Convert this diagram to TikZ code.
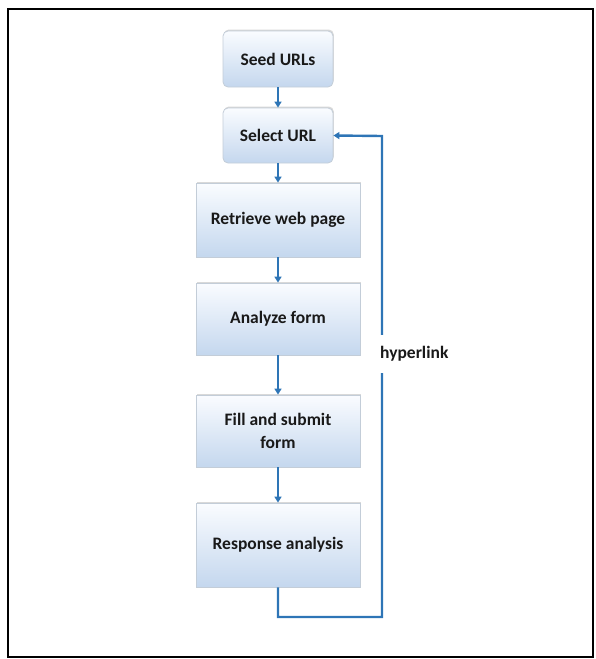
\documentclass[tikz,border=0pt]{standalone}
\usepackage{fontspec}
\setmainfont{Carlito}
\usetikzlibrary{arrows.meta,shadows}
\definecolor{flowblue}{RGB}{46,117,182}
\definecolor{boxtop}{RGB}{250,252,255}
\definecolor{boxbot}{RGB}{196,215,238}
\definecolor{boxedge}{RGB}{195,205,216}
\tikzset{
  stepbox/.style={draw=boxedge, line width=0.8pt, top color=boxtop, bottom color=boxbot,
    align=center, font=\fontsize{17.5}{23}\selectfont\bfseries, text=black!90,
    drop shadow={shadow xshift=0.8pt, shadow yshift=1.5pt, fill=black!25, opacity=0.6},
    inner sep=0pt},
  roundbox/.style={stepbox, rounded corners=5pt},
  flow/.style={draw=flowblue, line width=2.4pt, -{Triangle[length=6pt,width=7pt]}},
}
\begin{document}
\begin{tikzpicture}[x=1pt,y=-1pt]
  \useasboundingbox (0,0) rectangle (596,659);
  % outer frame
  \draw[line width=2pt, black] (8,9) rectangle (593,657);

  % process steps
  \node[roundbox, minimum width=110pt, minimum height=56pt] (seed) at (278,59) {Seed URLs};
  \node[roundbox, minimum width=110pt, minimum height=55pt] (select) at (278,135.5) {Select URL};
  \node[stepbox, minimum width=164pt, minimum height=74pt] (retrieve) at (278,220) {Retrieve web page};
  \node[stepbox, minimum width=164pt, minimum height=72pt] (analyze) at (278,319) {Analyze form};
  \node[stepbox, minimum width=164pt, minimum height=72pt] (fill) at (278,431) {Fill and submit\\form};
  \node[stepbox, minimum width=164pt, minimum height=84pt] (response) at (278,545) {Response analysis};

  % straight connectors
  \draw[flow] (seed) -- (select);
  \draw[flow] (select) -- (retrieve);
  \draw[flow] (retrieve) -- (analyze);
  \draw[flow] (analyze) -- (fill);
  \draw[flow] (fill) -- (response);

  % feedback loop
  \coordinate (lb) at (278,617);
  \coordinate (rb) at (382,617);
  \coordinate (rt) at (382,136);
  \draw[flow] (response.south) -- (lb) -- (rb) -- (rt) -- (select.east);
  \node[fill=white, anchor=west, inner xsep=2pt, minimum height=38pt,
        font=\fontsize{17.5}{20}\selectfont\bfseries, text=black!90] (hyper) at (378,354) {hyperlink};
\end{tikzpicture}
\end{document}
